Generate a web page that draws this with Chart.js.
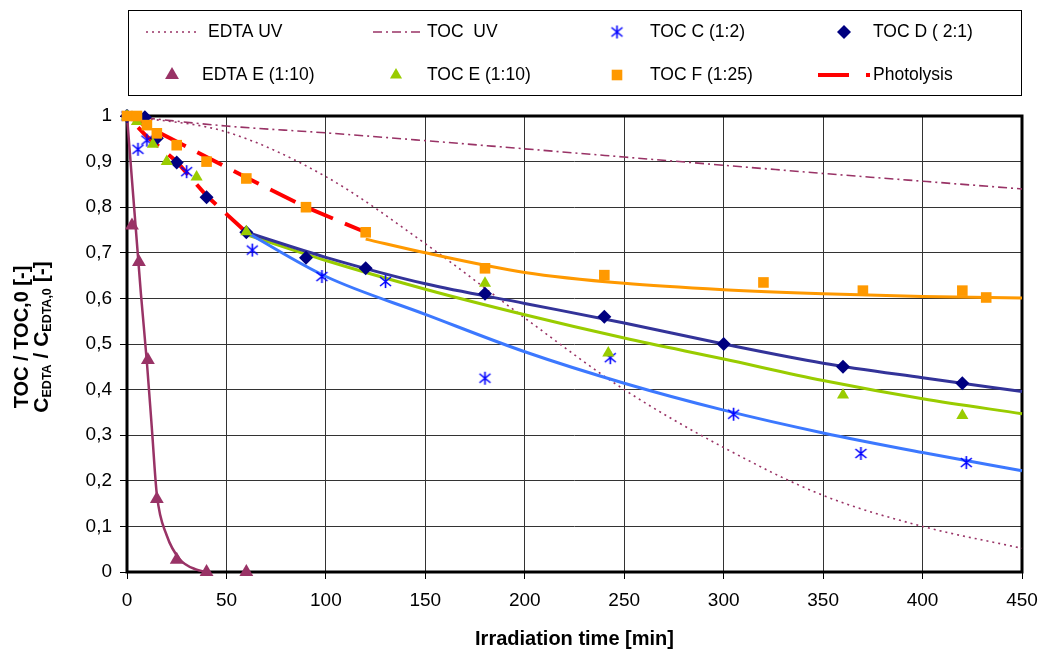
<!DOCTYPE html>
<html>
<head>
<meta charset="utf-8">
<script src="https://cdn.jsdelivr.net/npm/chart.js@4.4.0/dist/chart.umd.min.js"></script>
<style>
  body { margin: 0; background: #fff; }
  #wrap { width: 1042px; height: 651px; position: relative; }
</style>
</head>
<body>
<div id="wrap"><canvas id="chart"></canvas></div>
<script>
// values (time in min, ratio in -)
const curveTime = [0, 50, 100, 150, 200, 250, 300, 350, 400, 450];
const edtaUV = [1, 0.965, 0.867, 0.72, 0.557, 0.40, 0.273, 0.168, 0.10, 0.052];
const tocUV = [1, 0.978, 0.963, 0.946, 0.928, 0.91, 0.892, 0.874, 0.857, 0.84];

const edtaETime = [2.5, 6, 10.5, 15, 25, 40, 60];
const edtaEVal = [0.76, 0.68, 0.465, 0.16, 0.027, 0, 0];
const edtaEFitTime = [0, 7, 10, 12.5, 15, 20, 26.5, 35, 40];
const edtaEFitVal = [1, 0.61, 0.46, 0.315, 0.17, 0.08, 0.028, 0.005, 0];

const tocCTime = [0, 5.5, 10, 30, 63, 98, 130, 180, 243, 305, 369, 422];
const tocCVal = [1, 0.927, 0.947, 0.878, 0.706, 0.648, 0.637, 0.425, 0.47, 0.346, 0.26, 0.24];
const tocDTime = [0, 9, 15, 25, 40, 60, 90, 120, 180, 240, 300, 360, 420];
const tocDVal = [1, 0.997, 0.951, 0.898, 0.822, 0.745, 0.689, 0.666, 0.61, 0.56, 0.5, 0.45, 0.414];
const tocETime = [0, 5, 13, 20, 35, 60, 180, 242, 360, 420];
const tocEVal = [1, 0.988, 0.938, 0.9, 0.866, 0.746, 0.633, 0.48, 0.388, 0.343];
const tocFTime = [0, 5, 10, 15, 25, 40, 60, 90, 120, 180, 240, 320, 370, 420, 432];
const tocFVal = [1, 1, 0.98, 0.962, 0.936, 0.9, 0.863, 0.8, 0.745, 0.666, 0.651, 0.635, 0.617, 0.617, 0.602];

// fitted curves
const fitTime = [60, 100, 150, 200, 250, 300, 350, 400, 450];
const fitC = [0.745, 0.648, 0.565, 0.483, 0.414, 0.355, 0.305, 0.262, 0.222];
const fitD = [0.745, 0.69, 0.632, 0.589, 0.546, 0.5, 0.458, 0.426, 0.396];
const fitE = [0.74, 0.683, 0.62, 0.564, 0.513, 0.467, 0.42, 0.38, 0.347];
const fitFTime = [120, 150, 200, 250, 300, 350, 400, 450];
const fitF = [0.73, 0.70, 0.657, 0.633, 0.619, 0.61, 0.604, 0.601];

// photolysis: lower branch back to 0, then upper branch
const photoTime = [60, 40, 25, 10, 0, 60, 90, 120];
const photoVal = [0.745, 0.825, 0.9, 0.955, 1, 0.865, 0.8, 0.745];

const xTicks = [0, 50, 100, 150, 200, 250, 300, 350, 400, 450];

const xy = (t, v) => t.map((x, i) => ({ x: x, y: v[i] }));

const FONT = '"Liberation Sans", Arial, sans-serif';

// excel-like asterisk marker (X with a vertical bar)
function asterisk(color) {
  const s = 15;
  const c = document.createElement('canvas');
  c.width = s; c.height = s;
  const g = c.getContext('2d');
  g.strokeStyle = color;
  g.lineWidth = 1.6;
  g.beginPath();
  g.moveTo(s / 2, 1); g.lineTo(s / 2, s - 1);
  g.moveTo(2, 3); g.lineTo(s - 2, s - 3);
  g.moveTo(s - 2, 3); g.lineTo(2, s - 3);
  g.stroke();
  return c;
}
const starC = asterisk('#0000FF');

const datasets = [
  { label: 'EDTA UV', data: xy(curveTime, edtaUV), showLine: true, borderColor: '#993366', borderWidth: 1.6,
    borderDash: [2, 4], pointRadius: 0, cubicInterpolationMode: 'monotone', order: 20 },
  { label: 'TOC  UV', data: xy(curveTime, tocUV), showLine: true, borderColor: '#993366', borderWidth: 1.6,
    borderDash: [9, 4, 2, 4], pointRadius: 0, cubicInterpolationMode: 'monotone', order: 20 },
  { label: 'TOC C (1:2)', data: xy(tocCTime, tocCVal), showLine: false, pointStyle: starC, pointRadius: 7,
    borderColor: '#0000FF', backgroundColor: '#0000FF', order: 3 },
  { label: 'TOC D ( 2:1)', data: xy(tocDTime, tocDVal), showLine: false, pointStyle: 'rectRot', pointRadius: 7,
    pointBorderWidth: 0, backgroundColor: '#000080', borderColor: '#000080', order: 2 },
  { label: 'EDTA E (1:10)', data: xy(edtaETime, edtaEVal), showLine: false, pointStyle: 'triangle', pointRadius: 8,
    pointBorderWidth: 0, backgroundColor: '#993366', borderColor: '#993366', order: 4 },
  { label: 'TOC E (1:10)', data: xy(tocETime, tocEVal), showLine: false, pointStyle: 'triangle', pointRadius: 7,
    pointBorderWidth: 0, backgroundColor: '#99CC00', borderColor: '#99CC00', order: 1 },
  { label: 'TOC F (1:25)', data: xy(tocFTime, tocFVal), showLine: false, pointStyle: 'rect', pointRadius: 7.5,
    pointBorderWidth: 0, backgroundColor: '#FF9900', borderColor: '#FF9900', order: 0 },
  { label: 'Photolysis', data: xy(photoTime, photoVal), showLine: true, borderColor: '#FF0000', borderWidth: 4,
    borderDash: [28, 13], borderJoinStyle: 'bevel', pointRadius: 0, tension: 0, order: 10 },
  // trend lines (no legend entry)
  { label: 'fitEDTAE', data: xy(edtaEFitTime, edtaEFitVal), showLine: true, borderColor: '#993366', borderWidth: 2.5,
    pointRadius: 0, cubicInterpolationMode: 'monotone', order: 12 },
  { label: 'fitC', data: xy(fitTime, fitC), showLine: true, borderColor: '#3C78FF', borderWidth: 3,
    pointRadius: 0, cubicInterpolationMode: 'monotone', order: 12 },
  { label: 'fitD', data: xy(fitTime, fitD), showLine: true, borderColor: '#333399', borderWidth: 3,
    pointRadius: 0, cubicInterpolationMode: 'monotone', order: 12 },
  { label: 'fitE', data: xy(fitTime, fitE), showLine: true, borderColor: '#99CC00', borderWidth: 3,
    pointRadius: 0, cubicInterpolationMode: 'monotone', order: 12 },
  { label: 'fitF', data: xy(fitFTime, fitF), showLine: true, borderColor: '#FF9900', borderWidth: 3,
    pointRadius: 0, cubicInterpolationMode: 'monotone', order: 12 },
];

// legend layout: row y, line sample x0..x1 or marker x, text x
const legendPos = {
  'EDTA UV':      { y: 32, line: [146, 196], tx: 208 },
  'TOC  UV':      { y: 32, line: [373, 422], tx: 427 },
  'TOC C (1:2)':  { y: 32, mark: 617, tx: 650 },
  'TOC D ( 2:1)': { y: 32, mark: 844, tx: 873 },
  'EDTA E (1:10)':{ y: 75, mark: 172, tx: 202 },
  'TOC E (1:10)': { y: 75, mark: 396, tx: 427 },
  'TOC F (1:25)': { y: 75, mark: 617, tx: 650 },
  'Photolysis':   { y: 75, line: [818, 870], tx: 873 },
};

const decor = {
  id: 'decor',
  beforeDatasetsDraw(chart) {
    const { ctx, chartArea: a } = chart;
    ctx.save();
    ctx.strokeStyle = '#000';
    ctx.lineWidth = 3;
    ctx.strokeRect(a.left, a.top, a.right - a.left, a.bottom - a.top);
    ctx.restore();
  },
  afterDraw(chart) {
    const { ctx, chartArea: a } = chart;
    ctx.save();
    // legend box
    ctx.strokeStyle = '#000';
    ctx.lineWidth = 1;
    ctx.strokeRect(128.5, 10.5, 893, 85);
    ctx.font = '17.5px ' + FONT;
    ctx.textBaseline = 'middle';
    ctx.fillStyle = '#000';
    chart.data.datasets.forEach(ds => {
      const p = legendPos[ds.label];
      if (!p) return;
      if (p.line) {
        ctx.save();
        ctx.strokeStyle = ds.borderColor;
        ctx.lineWidth = ds.borderWidth;
        ctx.setLineDash(ds.label === 'Photolysis' ? [31, 17] : ds.borderDash);
        ctx.beginPath();
        ctx.moveTo(p.line[0], p.y);
        ctx.lineTo(p.line[1], p.y);
        ctx.stroke();
        ctx.restore();
      } else {
        ctx.save();
        ctx.fillStyle = ds.backgroundColor;
        ctx.strokeStyle = ds.borderColor;
        Chart.helpers.drawPoint(ctx, { pointStyle: ds.pointStyle, radius: ds.pointRadius, borderWidth: 0, rotation: 0 }, p.mark, p.y);
        ctx.restore();
      }
      ctx.fillText(ds.label, p.tx, p.y);
    });

    // x title
    ctx.font = 'bold 20px ' + FONT;
    ctx.textAlign = 'center';
    ctx.textBaseline = 'middle';
    ctx.fillText('Irradiation time [min]', (a.left + a.right) / 2, 639);

    // y title, two rotated lines with subscripts
    const cy = 337;
    ctx.save();
    ctx.translate(28, cy);
    ctx.rotate(-Math.PI / 2);
    ctx.textAlign = 'center';
    ctx.textBaseline = 'alphabetic';
    ctx.font = 'bold 20px ' + FONT;
    ctx.fillText('TOC / TOC,0 [-]', 0, 0);
    ctx.restore();

    const parts = [
      ['C', false], ['EDTA', true], [' / C', false], ['EDTA,0', true], [' [-]', false]
    ];
    const big = 'bold 21px ' + FONT, small = 'bold 12.5px ' + FONT;
    let total = 0;
    parts.forEach(([t, sub]) => { ctx.font = sub ? small : big; total += ctx.measureText(t).width; });
    ctx.save();
    ctx.translate(48, cy);
    ctx.rotate(-Math.PI / 2);
    ctx.textAlign = 'left';
    ctx.textBaseline = 'alphabetic';
    let x = -total / 2;
    parts.forEach(([t, sub]) => {
      ctx.font = sub ? small : big;
      ctx.fillText(t, x, sub ? 3 : 0);
      x += ctx.measureText(t).width;
    });
    ctx.restore();
    ctx.restore();
  }
};

new Chart(document.getElementById('chart'), {
  type: 'scatter',
  data: { datasets: datasets },
  plugins: [decor],
  options: {
    responsive: true,
    maintainAspectRatio: false,
    animation: false,
    clip: false,
    layout: { padding: { top: 116, right: 20, left: 0, bottom: 0 } },
    plugins: { legend: { display: false }, tooltip: { enabled: false } },
    elements: { line: { fill: false } },
    scales: {
      x: {
        type: 'linear', min: 0, max: 450,
        afterFit: s => { s.height = 79; s.paddingLeft = 0; s.paddingRight = 0; },
        afterBuildTicks: s => { s.ticks = xTicks.map(v => ({ value: v })); },
        grid: { color: '#333', lineWidth: 1, tickLength: 7, tickColor: '#000' },
        border: { display: false },
        ticks: { color: '#000', font: { family: FONT, size: 19 }, padding: 10, maxRotation: 0 }
      },
      y: {
        type: 'linear', min: 0, max: 1,
        afterFit: s => { s.width = 127; s.paddingTop = 0; s.paddingBottom = 0; },
        grid: { color: '#333', lineWidth: 1, tickLength: 7, tickColor: '#000' },
        border: { display: false },
        ticks: {
          stepSize: 0.1, color: '#000', font: { family: FONT, size: 19 }, padding: 8,
          callback: v => (Math.abs(v) < 1e-9 ? '0' : Math.abs(v - 1) < 1e-9 ? '1' : v.toFixed(1).replace('.', ','))
        }
      }
    }
  }
});
</script>
</body>
</html>
